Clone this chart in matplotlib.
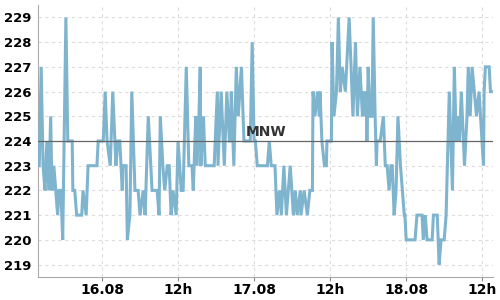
import matplotlib
matplotlib.use('Agg')
import matplotlib.pyplot as plt

# Stunden seit 16.08 00:00 und Messwerte
hours = [-9.9, -9.6, -9.3, -9.0, -8.7, -8.4, -8.1, -7.9, -7.6, -7.3, -7.0, -6.8, -6.5, -6.2,
         -5.7, -5.4, -4.7, -4.6, -4.3, -4.0, -3.2, -3.0, -2.5, -2.2, -0.8, -0.6,
         0.2, 0.5, 0.8, 1.3, 1.7, 2.2, 2.5, 2.8, 3.2, 3.3, 3.8, 4.0, 4.4, 4.7, 5.2, 5.7,
         6.0, 6.5, 6.8, 7.3, 7.7, 7.9, 8.7, 9.0, 9.2, 9.6, 9.9, 10.3, 10.6, 10.9, 11.2, 11.7,
         12.0, 12.5, 12.8, 13.3, 13.7, 14.2, 14.4, 14.8, 15.0, 15.3, 15.5, 15.6, 16.0, 16.3,
         17.7, 18.2, 18.3, 18.8, 19.3, 19.7, 20.1, 20.2, 20.4, 20.8, 21.2, 21.5, 22.0, 22.4,
         23.4, 23.7, 24.0, 24.2, 24.5, 26.1, 26.4, 26.7, 27.3, 27.6, 28.0, 28.3, 28.7, 29.1,
         29.7, 30.2, 30.5, 30.8, 31.3, 31.4, 31.9, 32.4, 32.8, 33.2, 33.3, 33.6, 34.0, 34.3,
         34.4, 34.7, 35.1, 35.4, 35.5, 36.2, 36.3, 36.6, 37.0, 37.3, 37.6, 37.9, 38.4, 39.0,
         39.6, 40.0, 40.3, 40.7, 41.1, 41.2, 41.5, 41.7, 41.8, 42.0, 42.3, 42.6, 42.8, 43.1,
         43.3, 43.4, 43.9, 44.4, 44.7, 45.0, 45.3, 45.6, 45.8, 46.1, 46.4, 46.7, 47.1, 47.7,
         47.8, 48.0, 49.4, 49.7, 50.5, 50.7, 51.0, 51.3, 52.1, 52.3, 52.9, 53.2, 53.5, 54.0,
         54.3, 54.8, 55.3, 55.6, 55.9, 56.2, 56.4, 56.7, 57.2, 57.6, 57.8, 58.1, 58.4, 59.1,
         59.5, 60.2, 60.3, 60.5, 61.1, 61.3, 61.6]
values = [223, 227, 223, 222, 224, 222, 225, 222, 223, 222, 221, 222, 222, 220,
          229, 224, 224, 222, 222, 221, 221, 222, 221, 223, 223, 224,
          224, 226, 224, 223, 226, 223, 224, 224, 222, 223, 223, 220, 221, 226, 222, 222,
          221, 222, 221, 225, 223, 222, 222, 221, 225, 223, 222, 223, 223, 221, 222, 221,
          224, 222, 222, 227, 223, 223, 222, 225, 223, 225, 227, 223, 225, 223,
          223, 226, 223, 226, 223, 226, 224, 224, 226, 223, 227, 225, 227, 224,
          224, 228, 224, 224, 223, 223, 224, 223, 223, 221, 222, 221, 223, 221,
          223, 221, 222, 221, 222, 221, 222, 221, 222, 222, 226, 225, 226, 225,
          226, 224, 223, 223, 224, 224, 228, 225, 226, 229, 226, 227, 226, 229,
          225, 228, 225, 227, 225, 226, 225, 226, 224, 227, 225, 225, 229, 225,
          223, 224, 224, 225, 223, 223, 222, 223, 223, 221, 222, 225, 223, 221,
          221, 220, 220, 221, 221, 220, 221, 220, 220, 221, 221, 219, 220, 220,
          221, 226, 222, 227, 224, 225, 224, 226, 223, 225, 227, 225, 227, 225,
          226, 223, 226, 227, 227, 226, 226]

mnw = 224
tick_pos = [0, 12, 24, 36, 48, 60]
tick_labels = ['16.08', '12h', '17.08', '12h', '18.08', '12h']
y_ticks = list(range(219, 230))

fig = plt.figure(figsize=(5, 3), dpi=100)
ax = fig.add_axes([0.076, 0.077, 0.910, 0.906])

ax.plot(hours, values, color='#7fb4ce', linewidth=2.2, solid_joinstyle='miter', zorder=3)
ax.axhline(mnw, color='#666666', linewidth=0.9, zorder=4)
ax.text(25.9, mnw + 0.08, 'MNW', ha='center', va='bottom', fontsize=10,
        fontweight='bold', color='#333333', zorder=5)

ax.set_xlim(-10.1, 61.7)
ax.set_ylim(218.5, 229.5)
ax.set_xticks(tick_pos)
ax.set_xticklabels(tick_labels)
ax.set_yticks(y_ticks)

ax.grid(True, color='#dddddd', linestyle=(0, (3, 3)), linewidth=0.8)
ax.set_axisbelow(True)
for s in ['top', 'right']:
    ax.spines[s].set_visible(False)
for s in ['left', 'bottom']:
    ax.spines[s].set_color('#aaaaaa')
ax.tick_params(axis='x', length=3, color='#888888', labelsize=10, pad=1.5)
ax.tick_params(axis='y', length=0, labelsize=9.5, pad=5)
for lab in ax.get_xticklabels() + ax.get_yticklabels():
    lab.set_fontweight('bold')

fig.savefig('out.png', dpi=100)
